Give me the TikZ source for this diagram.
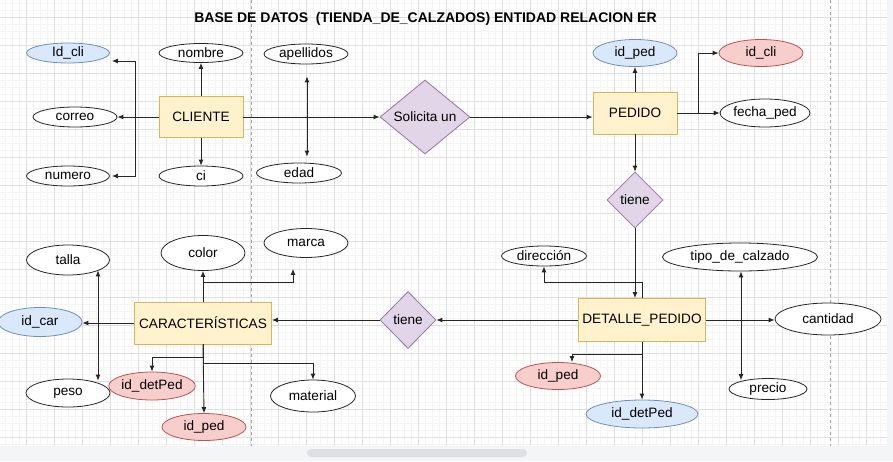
\documentclass[tikz,border=0pt]{standalone}
\usepackage{fontspec}
\setmainfont{Liberation Sans}
\usepackage{tikz}
\usetikzlibrary{calc}
\usetikzlibrary{arrows.meta}
\usetikzlibrary{shapes}
\usetikzlibrary{shapes.geometric}
\definecolor{entfill}{HTML}{FFF2CC}
\definecolor{entline}{HTML}{D6B656}
\definecolor{pkfill}{HTML}{DAE8FC}
\definecolor{pkline}{HTML}{6C8EBF}
\definecolor{fkfill}{HTML}{F8CECC}
\definecolor{fkline}{HTML}{B85450}
\definecolor{relfill}{HTML}{E1D5E7}
\definecolor{relline}{HTML}{9673A6}
\definecolor{gridmaj}{HTML}{E0E0E0}
\definecolor{gridmin}{HTML}{F5F5F5}
\definecolor{barfill}{HTML}{F4F5F7}
\definecolor{thumb}{HTML}{DFE0E3}
\tikzset{>={Latex[length=6pt,width=5pt]}}
\tikzstyle{con} = [->, draw=black!85, line width=0.9pt]
\tikzstyle{atrib} = [ellipse, draw=black!85, fill=white, line width=0.8pt, inner sep=0, minimum width=84pt, minimum height=20pt]
\tikzstyle{atribpk} = [atrib, draw=pkline, fill=pkfill]
\tikzstyle{atribfk} = [atrib, draw=fkline, fill=fkfill]
\tikzstyle{entidad} = [rectangle, draw=entline, fill=entfill, line width=0.8pt, inner sep=1pt, minimum width=84pt, minimum height=42pt]
\tikzstyle{relacion} = [diamond, draw=relline, fill=relfill, line width=0.8pt, inner sep=0, aspect=1.2, minimum width=56pt, minimum height=56pt]

\begin{document}
\begin{tikzpicture}[x=1pt, y=-1pt, font=\fontsize{13.6}{16}\selectfont]
\useasboundingbox (0,0) rectangle (893,461);
% fondo y cuadricula
\fill[white] (0,0) rectangle (893,461);
\begin{scope}
\clip (0,0) rectangle (887,446);
\draw[gridmin, line width=0.5pt, step=7pt, shift={(-1.3,17.3)}] (-10,-30) grid (900,460);
\draw[gridmaj, line width=0.8pt, step=28pt, shift={(-1.3,17.3)}] (-10,-30) grid (900,460);
\end{scope}
\draw[black!35, dash pattern=on 3pt off 3pt] (251,0) -- (251,446);
\draw[black!35, dash pattern=on 3pt off 3pt] (830,0) -- (830,446);
\fill[barfill] (0,446) rectangle (893,461);
\fill[barfill] (887,0) rectangle (893,446);
\fill[thumb, rounded corners=4pt] (307,449) rectangle (527,457);

\node [draw=none, font=\fontsize{14}{16}\selectfont\bfseries] (titulo) at (425.5,19) {BASE DE DATOS\ \ (TIENDA\_DE\_CALZADOS) ENTIDAD RELACION ER};

% CLIENTE
\node [entidad, minimum height=41pt] (cliente) at (201,117) {CLIENTE};
\node [atribpk, minimum width=83pt] (idcli) at (68,53) {Id\_cli};
\node [atrib] (correo) at (75,117) {correo};
\node [atrib, minimum width=83pt] (numero) at (68,176) {numero};
\node [atrib, minimum height=19pt] (nombre) at (201,53) {nombre};
\node [atrib] (ci) at (201,176) {ci};
\node [atrib] (apellidos) at (306,54) {apellidos};
\node [atrib, minimum width=85pt] (edad) at (299,173) {edad};
\node [relacion, minimum width=90pt, minimum height=74pt] (solicita) at (425,117) {Solicita un};

\draw [con] (cliente.west) -- (correo.east);
\draw [con] (cliente.west) -- (135,117) |- ($(idcli.east)+(2,8)$);
\draw [con] (cliente.west) -- (135,117) |- ($(numero.east)+(2,0)$);
\draw [con] (cliente.north) -- (nombre.south);
\draw [con] (cliente.south) -- (ci.north);
\draw [con] (cliente.east) -- (cliente.east -| solicita.west);
\draw [con, <->] ($(apellidos.south)+(1,12)$) -- ($(edad.north)+(8,-6)$);

% PEDIDO
\node [entidad] (pedido) at (635,113) {PEDIDO};
\node [atribpk, minimum height=27pt] (idped) at (635,53) {id\_ped};
\node [atribfk, minimum height=27pt] (idcliped) at (761,53) {id\_cli};
\node [atrib, minimum height=28pt] (fecha) at (765,113) {fecha\_ped};
\node [relacion] (tieneped) at (635,200) {tiene};

\draw [con] (solicita.east) -- (pedido.west |- solicita.east);
\draw [con] (pedido.north) -- (idped.south);
\draw [con] (pedido.east) -- (fecha.west);
\draw [con] (pedido.east) -- (698,113) |- (idcliped.west);
\draw [con] (pedido.south) -- (tieneped.north);

% DETALLE_PEDIDO
\node [entidad, minimum width=127pt, minimum height=43pt] (detalle) at (642,320) {DETALLE\_PEDIDO};
\node [atrib, minimum width=85pt] (direccion) at (544,256) {dirección};
\node [atrib, minimum width=155pt, minimum height=28pt] (tipo) at (740,257) {tipo\_de\_calzado};
\node [atrib, minimum width=106pt, minimum height=32pt] (cantidad) at (828,319) {cantidad};
\node [atribfk, minimum width=85pt, minimum height=27pt] (idpeddet) at (558,376) {id\_ped};
\node [atribpk, minimum width=112pt, minimum height=28pt] (iddetped) at (642,414) {id\_detPed};
\node [atrib, minimum width=78pt, minimum height=21pt] (precio) at (768,389) {precio};
\node [relacion, minimum height=57pt] (tienecar) at (408,320) {tiene};

\draw [con] (tieneped.south) -- (tieneped.south |- detalle.north);
\draw [con] (detalle.north) -- (642,282) -| (direccion.south);
\draw [con] (detalle.east) -- (detalle.east -| cantidad.west);
\draw [con, <->] ($(tipo.south)+(1,0)$) -- ($(precio.north)+(-27,2)$);
\draw [con] (detalle.south) -- (642,354) -| ($(idpeddet.north)+(14,0)$);
\draw [con] (detalle.south) -- (iddetped.north);
\draw [con] (detalle.west) -- (tienecar.east);

% CARACTERISTICAS
\node [entidad, minimum width=137pt] (caract) at (203,323) {CARACTERÍSTICAS};
\node [atrib, minimum width=83pt, minimum height=30pt] (talla) at (68,260) {talla};
\node [atrib, minimum height=35pt] (color) at (203,253) {color};
\node [atrib, minimum height=29pt] (marca) at (306,243) {marca};
\node [atribpk, minimum height=29pt] (idcar) at (40,322) {id\_car};
\node [atrib, minimum height=28pt] (peso) at (68,393) {peso};
\node [atribfk, minimum height=28pt] (iddetcar) at (152,386) {id\_detPed};
\node [atrib, minimum width=85pt, minimum height=32pt] (material) at (313,396) {material};
\node [atribfk, minimum height=27pt] (idpedcar) at (204,427) {id\_ped};

\draw [con] (tienecar.west) -- (tienecar.west -| caract.east);
\draw [con] (caract.north) -- (color.south);
\draw [con] (caract.north) -- (203,282) -| ($(marca.south)+(-13,11)$);
\draw [con] (caract.west) -- (caract.west -| idcar.east);
\draw [con, <->] ($(talla.south)+(30,-5)$) -- ($(peso.north)+(30,2)$);
\draw [con] (caract.south) -- (203,357) -| (iddetcar.north);
\draw [con] (caract.south) -- (idpedcar.north);
\draw [con] (caract.south) -- (203,363) -| (material.north);
\end{tikzpicture}
\end{document}
